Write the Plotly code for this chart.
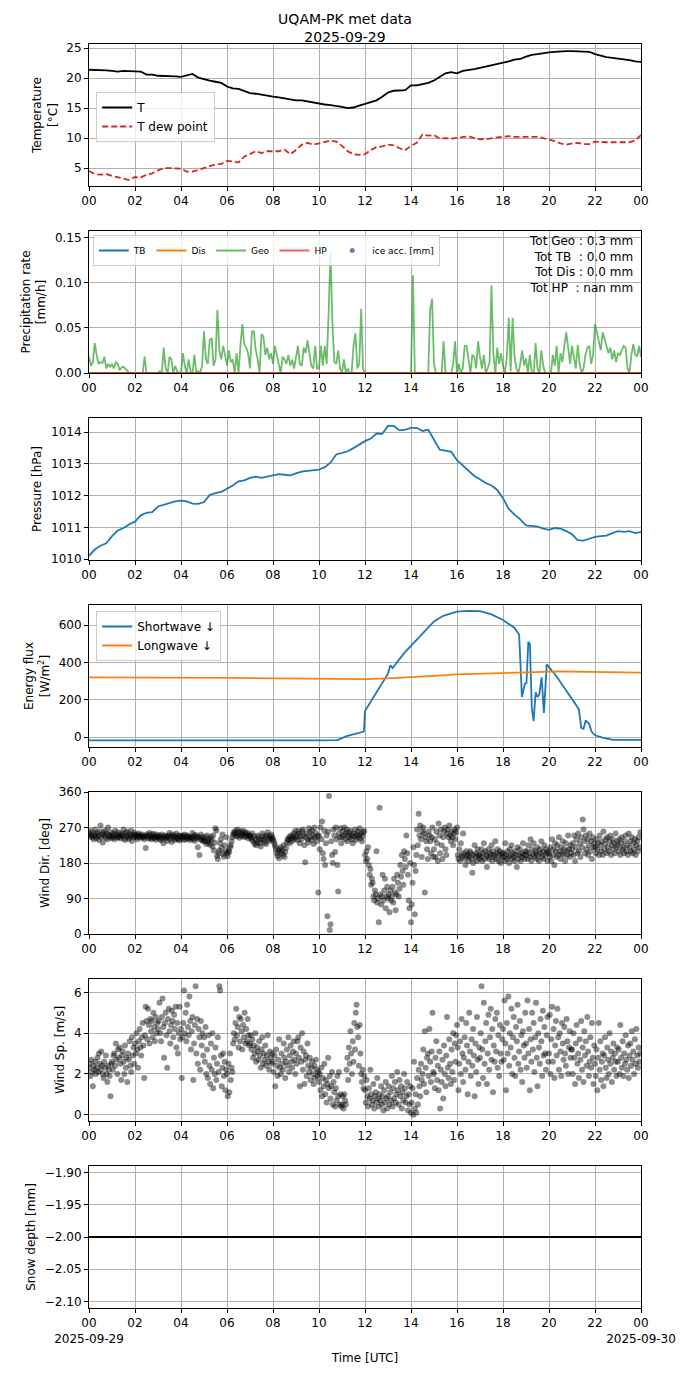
import plotly.graph_objects as go

# ---------------- DATA ----------------
# Temperature and dew point, every 15 min from 00:00 to 24:00 (hours)
temp_t = [i * 0.25 for i in range(97)]
temp = [21.4, 21.4, 21.3, 21.3, 21.2, 21.1, 21.2, 21.2, 21.2, 21.1, 20.6, 20.6,
        20.4, 20.4, 20.3, 20.3, 20.2, 20.5, 20.7, 20.1, 19.8, 19.6, 19.4, 19.2,
        18.6, 18.3, 18.2, 17.8, 17.5, 17.4, 17.2, 17.1, 16.9, 16.8, 16.6, 16.4,
        16.3, 16.3, 16.1, 16.0, 15.8, 15.6, 15.5, 15.4, 15.2, 15.0, 15.1, 15.4,
        15.7, 16.1, 16.3, 16.9, 17.6, 17.9, 18.0, 18.0, 18.8, 18.8, 19.0, 19.2,
        19.6, 20.2, 20.8, 21.0, 20.8, 21.2, 21.3, 21.5, 21.7, 21.9, 22.1, 22.4,
        22.6, 22.8, 23.1, 23.2, 23.6, 23.9, 24.0, 24.2, 24.3, 24.4, 24.5, 24.5,
        24.5, 24.5, 24.5, 24.4, 24.0, 23.7, 23.5, 23.4, 23.3, 23.2, 23.0, 22.8,
        22.7]
dew = [4.5, 4.0, 3.9, 4.0, 3.7, 3.5, 3.2, 3.0, 3.5, 3.4, 3.9, 4.1,
       4.6, 5.0, 5.0, 4.9, 4.9, 4.4, 4.4, 4.7, 5.0, 5.3, 5.6, 5.7,
       6.2, 6.1, 5.9, 6.9, 7.3, 7.8, 7.5, 7.8, 7.8, 7.8, 8.1, 7.3,
       8.0, 8.9, 9.2, 8.9, 9.1, 9.4, 9.6, 9.4, 8.7, 7.8, 7.3, 7.2,
       7.3, 8.0, 8.5, 8.6, 8.9, 8.8, 8.3, 8.0, 8.7, 9.2, 10.6, 10.4,
       10.5, 9.9, 10.0, 9.9, 10.0, 10.1, 10.3, 10.0, 9.8, 9.8, 10.0, 10.1,
       10.2, 10.3, 10.2, 10.2, 10.2, 10.1, 10.2, 10.0, 9.8, 9.5, 9.1, 8.9,
       9.1, 9.2, 9.0, 9.0, 9.4, 9.3, 9.3, 9.3, 9.3, 9.4, 9.3, 9.6,
       10.5]

# Precipitation rate (Geo), every 5 min (mm/h)
precip_t = [i / 12 for i in range(289)]
geo = [
    0.018, 0.008, 0.012, 0.033, 0.020, 0.010, 0.012, 0.011, 0.018, 0.005, 0.010, 0.007,
    0.010, 0.005, 0.012, 0.010, 0.003, 0.006, 0.007, 0.004, 0.002, 0.0, 0.0, 0.0,
    0.0, 0.0, 0.0, 0.0, 0.0, 0.018, 0.0, 0.0, 0.0, 0.0, 0.0, 0.0,
    0.0, 0.002, 0.0, 0.028, 0.005, 0.0, 0.018, 0.015, 0.0, 0.008, 0.002, 0.0,
    0.0, 0.022, 0.008, 0.0, 0.015, 0.002, 0.0, 0.020, 0.0, 0.002, 0.0, 0.008,
    0.046, 0.015, 0.010, 0.037, 0.038, 0.008, 0.015, 0.070, 0.025, 0.015, 0.030, 0.020,
    0.008, 0.025, 0.012, 0.015, 0.0, 0.022, 0.0, 0.030, 0.054, 0.032, 0.028, 0.022,
    0.005, 0.046, 0.046, 0.025, 0.015, 0.0, 0.043, 0.040, 0.020, 0.028, 0.015, 0.022,
    0.010, 0.030, 0.020, 0.012, 0.0, 0.018, 0.015, 0.010, 0.020, 0.008, 0.015, 0.005,
    0.018, 0.030, 0.010, 0.008, 0.028, 0.022, 0.036, 0.022, 0.008, 0.005, 0.030, 0.005,
    0.005, 0.030, 0.008, 0.030, 0.010, 0.065, 0.135, 0.055, 0.012, 0.010, 0.025, 0.005,
    0.0, 0.015, 0.0, 0.005, 0.0, 0.0, 0.030, 0.044, 0.005, 0.010, 0.071, 0.005,
    0.0, 0.0, 0.0, 0.0, 0.0, 0.0, 0.0, 0.0, 0.0, 0.0, 0.0, 0.0,
    0.0, 0.0, 0.0, 0.0, 0.0, 0.0, 0.0, 0.0, 0.0, 0.0, 0.0, 0.0,
    0.0, 0.108, 0.0, 0.0, 0.0, 0.0, 0.0, 0.0, 0.0, 0.0, 0.070, 0.082,
    0.010, 0.0, 0.0, 0.0, 0.0, 0.035, 0.0, 0.0, 0.0, 0.0, 0.010, 0.035,
    0.0, 0.010, 0.0, 0.005, 0.030, 0.030, 0.015, 0.0, 0.020, 0.018, 0.005, 0.035,
    0.018, 0.005, 0.020, 0.0, 0.005, 0.012, 0.097, 0.020, 0.0, 0.028, 0.010, 0.022,
    0.008, 0.0, 0.018, 0.061, 0.002, 0.061, 0.018, 0.005, 0.0, 0.010, 0.025, 0.008,
    0.016, 0.0, 0.020, 0.0, 0.0, 0.033, 0.005, 0.0, 0.025, 0.008, 0.0, 0.0,
    0.0, 0.0, 0.020, 0.008, 0.030, 0.0, 0.022, 0.012, 0.030, 0.045, 0.028, 0.010,
    0.030, 0.018, 0.005, 0.031, 0.010, 0.0, 0.005, 0.020, 0.028, 0.030, 0.010, 0.020,
    0.054, 0.045, 0.035, 0.025, 0.045, 0.038, 0.030, 0.022, 0.028, 0.015, 0.025, 0.012,
    0.022, 0.020, 0.025, 0.030, 0.028, 0.005, 0.0, 0.020, 0.032, 0.020, 0.018, 0.030,
    0.018]
zero_t = [0, 24]
tb = [0.0, 0.0]
dis = [0.0, 0.0]
hp = [0.0, 0.0]
totals_text = ["Tot Geo : 0.3 mm", "Tot TB  : 0.0 mm", "Tot Dis : 0.0 mm", "Tot HP  : nan mm"]

# Pressure, every 15 min (hPa)
pres = [1010.10, 1010.30, 1010.42, 1010.50, 1010.72, 1010.90, 1010.98, 1011.10,
        1011.18, 1011.38, 1011.46, 1011.48, 1011.66, 1011.72, 1011.78, 1011.82,
        1011.84, 1011.82, 1011.75, 1011.74, 1011.80, 1012.02, 1012.08, 1012.12,
        1012.22, 1012.32, 1012.45, 1012.48, 1012.56, 1012.60, 1012.56, 1012.60,
        1012.66, 1012.68, 1012.66, 1012.64, 1012.70, 1012.76, 1012.78, 1012.80,
        1012.82, 1012.90, 1013.04, 1013.30, 1013.36, 1013.40, 1013.50, 1013.62,
        1013.72, 1013.80, 1013.96, 1013.95, 1014.20, 1014.20, 1014.06, 1014.08,
        1014.14, 1014.14, 1014.04, 1014.08, 1013.78, 1013.45, 1013.42, 1013.38,
        1013.12, 1012.95, 1012.80, 1012.62, 1012.52, 1012.40, 1012.32, 1012.18,
        1011.92, 1011.58, 1011.40, 1011.25, 1011.06, 1011.05, 1011.02, 1010.96,
        1010.92, 1010.98, 1010.96, 1010.88, 1010.78, 1010.60, 1010.58, 1010.64,
        1010.70, 1010.72, 1010.74, 1010.82, 1010.88, 1010.86, 1010.88, 1010.82,
        1010.85]

# Radiation (W/m2)
sw_t = [0, 2, 4, 6, 8, 10, 10.8, 11.2, 11.5, 11.9, 11.95, 12.0, 12.3, 12.8, 13.0, 13.1,
        13.2, 13.7, 14.3, 15.0, 15.4, 16.0, 16.5, 17.0, 17.5, 18.0, 18.5, 18.7, 18.75,
        18.82, 18.95, 19.02, 19.1, 19.17, 19.25, 19.33, 19.42, 19.5, 19.58, 19.68, 19.78,
        19.9, 20.3, 21.3, 21.4, 21.5, 21.6, 21.75, 21.85, 22.0, 22.4, 22.8, 24]
sw = [-18, -17, -15, -16, -17, -17, -16, 5, 15, 25, 30, 140, 200, 300, 340, 385,
      370, 450, 530, 620, 650, 672, 676, 675, 658, 628, 585, 550, 420,
      215, 285, 290, 510, 500, 160, 85, 240, 215, 230, 320, 130,
      390, 330, 150, 50, 45, 90, 70, 30, 10, -5, -15, -15]
lw_t = [0, 2, 4, 4.5, 6, 8, 10, 12, 13, 14, 15, 16, 17, 18, 19, 20, 20.5, 21, 22, 23, 24]
lw = [320, 320, 321, 321, 317, 315, 313, 311, 315, 320, 328, 336, 340, 343, 345, 348,
      352, 351, 348, 347, 346]

# Wind, every 2 min
wind_t = [i / 30 for i in range(720)]
wdir = [
    255, 262, 248, 250, 245, 258, 240, 252, 265, 248, 243, 256, 250, 238, 260, 275, 246, 252, 232, 258, 249, 262, 244, 255, 240, 270, 251, 247, 258, 243,
    250, 245, 255, 240, 262, 248, 252, 244, 258, 246, 250, 242, 255, 248, 252, 265, 243, 238, 256, 249, 260, 246, 241, 253, 248, 262, 236, 251, 245, 257,
    248, 252, 245, 240, 250, 255, 246, 250, 244, 252, 248, 245, 240, 250, 218, 247, 253, 242, 249, 256, 244, 240, 251, 246, 254, 243, 248, 239, 252, 245,
    245, 250, 240, 248, 238, 252, 244, 230, 246, 250, 242, 248, 236, 245, 250, 256, 241, 247, 233, 252, 244, 249, 238, 246, 255, 242, 240, 250, 237, 248,
    248, 242, 250, 245, 238, 252, 246, 240, 250, 244, 248, 242, 238, 246, 244, 256, 241, 249, 236, 251, 243, 247, 220, 245, 200, 240, 252, 238, 246, 235,
    240, 235, 245, 228, 250, 236, 232, 241, 226, 246, 238, 222, 250, 212, 232, 268, 262, 198, 190, 205, 212, 230, 240, 218, 252, 203, 196, 225, 210, 245,
    205, 198, 212, 208, 220, 225, 235, 245, 252, 258, 255, 262, 248, 250, 265, 258, 244, 252, 260, 248, 255, 262, 250, 245, 258, 252, 248, 256, 242, 250,
    250, 245, 240, 255, 235, 248, 228, 240, 225, 232, 250, 245, 238, 230, 222, 240, 255, 248, 238, 232, 245, 228, 250, 258, 242, 236, 248, 240, 252, 245,
    240, 235, 228, 222, 215, 205, 198, 210, 192, 215, 220, 205, 212, 200, 225, 195, 208, 218, 232, 240, 238, 245, 230, 250, 242, 236, 248, 255, 240, 262,
    245, 250, 238, 262, 255, 230, 248, 240, 260, 265, 250, 225, 182, 245, 255, 240, 232, 268, 258, 245, 238, 262, 250, 228, 270, 244, 256, 235, 248, 105,
    250, 215, 270, 240, 285, 205, 190, 262, 175, 230, 250, 45, 260, 350, 10, 25, 235, 200, 180, 265, 250, 208, 270, 240, 175, 108, 255, 245, 268, 230,
    245, 260, 250, 270, 240, 255, 265, 235, 250, 258, 245, 262, 240, 250, 230, 255, 248, 265, 238, 252, 244, 260, 250, 268, 242, 255, 235, 248, 258, 262,
    200, 185, 210, 190, 220, 175, 150, 165, 125, 140, 130, 95, 85, 110, 100, 210, 80, 90, 30, 320, 100, 75, 95, 150, 85, 110, 140, 65, 95, 120,
    90, 100, 55, 110, 85, 95, 120, 80, 140, 105, 60, 100, 150, 130, 95, 115, 175, 145, 200, 160, 125, 210, 190, 170, 250, 205, 150, 85, 65, 180,
    30, 75, 130, 220, 175, 50, 160, 200, 265, 225, 305, 250, 275, 240, 195, 260, 270, 255, 105, 245, 235, 215, 190, 260, 250, 235, 205, 245, 270, 195,
    215, 240, 195, 260, 230, 185, 280, 250, 205, 265, 225, 190, 245, 260, 270, 215, 200, 255, 265, 245, 275, 250, 235, 260, 245, 225, 255, 265, 240, 258,
    270, 200, 190, 215, 185, 230, 200, 195, 255, 205, 190, 175, 210, 198, 200, 185, 195, 210, 205, 190, 155, 180, 200, 225, 195, 205, 185, 215, 200, 190,
    200, 195, 215, 185, 205, 230, 190, 210, 200, 170, 195, 215, 190, 205, 200, 225, 185, 210, 195, 200, 235, 190, 205, 215, 185, 200, 210, 180, 195, 205,
    195, 205, 185, 230, 200, 190, 210, 195, 180, 215, 200, 225, 190, 205, 195, 185, 210, 200, 170, 220, 190, 200, 215, 185, 205, 195, 230, 200, 190, 210,
    200, 210, 190, 225, 205, 195, 240, 185, 215, 200, 230, 195, 210, 205, 190, 220, 200, 185, 215, 205, 235, 195, 210, 190, 225, 200, 215, 205, 185, 210,
    205, 195, 220, 185, 240, 200, 215, 175, 230, 210, 195, 225, 200, 245, 210, 190, 220, 205, 235, 200, 215, 185, 230, 210, 200, 250, 215, 195, 225, 205,
    215, 230, 200, 250, 185, 220, 240, 205, 255, 210, 230, 195, 245, 220, 290, 265, 235, 205, 250, 215, 240, 200, 225, 255, 210, 235, 190, 245, 220, 230,
    220, 205, 240, 215, 230, 200, 250, 225, 210, 235, 200, 260, 215, 228, 240, 205, 245, 220, 210, 235, 250, 200, 225, 240, 215, 230, 205, 255, 220, 235,
    225, 210, 240, 200, 230, 245, 215, 220, 205, 235, 250, 210, 225, 200, 255, 220, 235, 210, 245, 205, 230, 215, 240, 200, 225, 235, 210, 245, 220, 258]
wspd = [
    2.3, 2.5, 1.9, 2.7, 2.1, 1.4, 2.4, 2.2, 2.6, 2.0, 2.3, 2.8, 2.1, 3.0, 2.5, 2.2, 3.1, 2.4, 2.0, 1.8, 2.6, 2.3, 2.9, 2.0, 1.6, 2.4, 2.2, 1.9, 0.9, 2.5,
    2.6, 2.2, 2.9, 3.0, 2.4, 3.5, 2.7, 2.0, 3.2, 2.8, 3.3, 2.5, 1.7, 2.9, 3.1, 2.6, 2.0, 3.4, 2.3, 2.8, 1.6, 3.0, 2.7, 3.6, 2.4, 2.1, 3.8, 2.9, 3.3, 2.5,
    3.5, 3.0, 4.0, 3.2, 2.3, 3.6, 4.2, 3.3, 2.9, 3.8, 4.5, 3.4, 1.8, 3.9, 5.3, 4.6, 3.7, 5.2, 4.4, 3.5, 4.7, 4.1, 4.6, 3.8, 5.0, 4.3, 3.6, 4.8, 4.0, 4.5,
    4.2, 4.6, 5.5, 4.0, 3.6, 4.8, 5.7, 4.3, 2.8, 4.5, 5.0, 3.9, 2.3, 4.7, 5.2, 4.1, 3.5, 4.4, 5.1, 4.6, 3.8, 4.9, 4.2, 5.3, 3.3, 4.5, 3.0, 4.0, 5.3, 3.7,
    4.2, 1.8, 3.8, 4.5, 6.1, 4.0, 5.0, 3.6, 5.4, 4.3, 3.9, 5.8, 4.6, 3.2, 4.1, 4.8, 1.7, 3.5, 4.4, 6.3, 3.0, 4.7, 2.5, 4.2, 3.8, 2.2, 4.6, 3.4, 4.0, 2.9,
    3.8, 2.6, 4.3, 2.0, 3.2, 1.8, 3.9, 2.4, 1.5, 3.5, 2.2, 4.0, 1.3, 2.8, 2.0, 3.3, 1.7, 2.5, 3.8, 2.1, 6.3, 6.1, 2.9, 1.4, 2.3, 3.0, 1.9, 2.6, 1.2, 2.2,
    2.0, 0.9, 2.5, 1.1, 3.0, 1.7, 2.3, 2.1, 3.5, 4.0, 3.7, 4.5, 5.2, 3.9, 4.3, 3.3, 4.8, 3.6, 4.7, 4.1, 3.2, 4.4, 3.8, 5.0, 3.5, 4.2, 3.6, 4.7, 3.9, 3.4,
    3.5, 3.9, 3.2, 3.7, 2.8, 3.4, 3.0, 4.0, 2.6, 3.3, 3.1, 2.7, 3.6, 2.9, 2.3, 3.2, 3.8, 2.5, 3.0, 2.7, 3.4, 2.4, 2.9, 3.9, 2.6, 2.2, 3.1, 2.8, 2.5, 3.0,
    2.6, 2.1, 2.9, 1.4, 3.2, 2.4, 1.9, 2.7, 3.7, 2.3, 2.0, 3.0, 2.5, 2.2, 3.5, 2.8, 1.8, 2.6, 3.2, 2.4, 3.8, 2.1, 2.9, 3.4, 2.6, 2.3, 3.1, 3.6, 2.7, 2.0,
    3.0, 2.5, 3.6, 3.8, 2.8, 1.4, 3.3, 2.6, 4.0, 2.2, 3.1, 1.5, 2.7, 2.9, 1.9, 3.5, 2.4, 2.1, 2.8, 1.7, 2.3, 2.6, 2.0, 1.5, 2.4, 1.8, 2.7, 2.2, 1.9, 2.1,
    1.6, 2.0, 1.2, 2.3, 0.9, 1.8, 1.4, 2.5, 1.0, 1.7, 0.6, 1.5, 2.8, 1.3, 1.9, 0.8, 1.4, 2.1, 0.5, 1.6, 1.1, 0.4, 1.3, 0.7, 1.9, 0.9, 2.1, 0.5, 1.0, 0.4,
    0.5, 0.9, 0.3, 1.0, 0.7, 0.5, 2.2, 2.8, 1.7, 3.3, 2.5, 4.1, 3.0, 2.0, 3.6, 2.6, 4.5, 3.2, 5.0, 5.4, 4.3, 3.8, 2.4, 4.4, 3.0, 2.0, 1.6, 2.2, 1.3, 1.9,
    1.2, 0.6, 1.7, 0.9, 0.4, 1.3, 0.8, 2.2, 1.0, 0.5, 0.7, 1.5, 0.3, 0.9, 1.1, 0.6, 1.8, 0.8, 0.4, 1.0, 0.7, 1.4, 0.5, 0.9, 0.2, 1.2, 0.6, 1.6, 0.8, 0.3,
    0.9, 1.4, 0.5, 1.1, 0.7, 1.9, 0.4, 1.3, 0.8, 1.6, 0.6, 1.0, 2.1, 1.2, 0.5, 1.7, 0.9, 1.4, 0.3, 1.1, 0.7, 2.0, 1.3, 0.6, 0.9, 1.6, 0.2, 1.0, 0.5, 1.4,
    0.1, 0.6, 1.3, 0.0, 2.6, 0.3, 1.0, 0.1, 1.8, 0.5, 2.2, 1.4, 0.9, 2.5, 1.7, 2.0, 3.2, 1.5, 4.1, 2.3, 1.1, 2.8, 3.0, 1.9, 4.2, 2.6, 1.6, 3.1, 5.0, 2.1,
    2.0, 1.3, 2.8, 3.6, 1.7, 2.4, 1.2, 3.1, 0.3, 2.2, 1.6, 2.7, 0.8, 3.4, 2.0, 1.4, 2.9, 4.8, 2.3, 1.8, 3.7, 2.5, 1.5, 3.2, 2.1, 4.0, 1.7, 3.5, 2.6, 3.9,
    4.4, 3.3, 1.2, 2.5, 3.6, 2.0, 4.7, 3.0, 1.6, 2.8, 3.8, 2.2, 4.5, 3.4, 1.0, 2.6, 5.0, 3.1, 1.9, 3.7, 2.4, 4.2, 2.9, 0.9, 3.5, 2.1, 4.8, 2.7, 1.5, 3.3,
    2.8, 4.0, 6.3, 3.2, 1.8, 5.5, 2.5, 3.6, 4.5, 1.5, 3.0, 4.9, 2.2, 3.8, 5.2, 2.7, 4.2, 1.1, 3.4, 2.6, 4.7, 3.1, 5.0, 2.3, 3.9, 1.9, 4.4, 3.0, 2.6, 3.7,
    4.2, 2.7, 5.6, 3.5, 1.2, 4.5, 3.0, 5.8, 2.4, 4.0, 3.3, 5.2, 2.0, 3.8, 4.8, 2.8, 1.9, 4.3, 3.6, 5.4, 2.5, 3.1, 4.6, 2.2, 3.9, 1.6, 4.1, 3.4, 2.8, 5.0,
    3.5, 2.3, 5.6, 3.0, 4.2, 1.2, 3.7, 2.6, 5.0, 3.2, 4.5, 2.1, 3.8, 5.5, 2.8, 1.4, 4.0, 3.3, 2.5, 4.7, 3.6, 1.9, 5.1, 2.9, 4.3, 3.0, 2.2, 3.9, 4.8, 2.6,
    3.0, 4.9, 2.0, 3.7, 5.3, 2.6, 4.2, 1.8, 3.4, 4.6, 2.9, 5.2, 3.8, 2.2, 4.0, 3.1, 1.9, 4.5, 3.5, 2.7, 4.3, 3.0, 2.4, 4.7, 3.6, 2.0, 3.3, 4.1, 2.8, 3.2,
    3.2, 2.0, 4.0, 2.8, 1.5, 3.5, 4.4, 2.5, 3.0, 1.8, 3.7, 2.7, 4.6, 2.2, 3.3, 1.6, 4.1, 2.9, 3.6, 2.4, 4.8, 3.1, 1.9, 2.6, 3.8, 2.3, 4.5, 2.8, 1.5, 3.4,
    2.5, 1.9, 3.2, 1.2, 2.8, 4.5, 2.2, 3.6, 1.7, 2.6, 3.0, 1.4, 2.9, 3.8, 2.3, 1.8, 3.3, 2.7, 2.0, 4.0, 2.5, 3.1, 1.6, 2.8, 3.5, 2.2, 3.0, 2.6, 1.9, 3.3,
    2.6, 3.2, 2.0, 4.4, 2.8, 2.3, 3.6, 1.9, 3.0, 2.5, 3.9, 2.7, 2.2, 3.4, 1.8, 2.9, 3.5, 2.4, 4.1, 2.7, 3.1, 2.0, 3.7, 2.5, 4.2, 2.9, 2.3, 3.3, 2.6, 3.0]

# Snow depth (mm), hourly
snow_t = list(range(25))
snow = [-2.0] * 25

hour_ticks = list(range(0, 25, 2))
hour_labels = ["00", "02", "04", "06", "08", "10", "12", "14", "16", "18", "20", "22", "00"]
day_start = "2025-09-29"
day_end = "2025-09-30"

# ---------------- FIGURE ----------------
W, H = 690, 1377
ML, MR, MT, MB = 89, 49, 44, 69
PH = H - MT - MB
STEP, PANEL = 187, 142


def dom(i):
    top = 1 - (i * STEP) / PH
    return [top - PANEL / PH, top]


FONT = "DejaVu Sans, Verdana, sans-serif"
fig = go.Figure()

# Panel 1
fig.add_trace(go.Scatter(x=temp_t, y=temp, mode="lines", name="T",
                         line=dict(color="black", width=1.8), xaxis="x", yaxis="y", legend="legend"))
fig.add_trace(go.Scatter(x=temp_t, y=dew, mode="lines", name="T dew point",
                         line=dict(color="#d62728", width=1.8, dash="6px,3px"), xaxis="x", yaxis="y", legend="legend"))
# Panel 2
fig.add_trace(go.Scatter(x=zero_t, y=tb, mode="lines", name="TB",
                         line=dict(color="#1f77b4", width=1.8), xaxis="x2", yaxis="y2", legend="legend2"))
fig.add_trace(go.Scatter(x=zero_t, y=dis, mode="lines", name="Dis",
                         line=dict(color="#ff7f0e", width=1.8), xaxis="x2", yaxis="y2", legend="legend2"))
fig.add_trace(go.Scatter(x=precip_t, y=geo, mode="lines", name="Geo",
                         line=dict(color="rgba(44,160,44,0.7)", width=1.8), xaxis="x2", yaxis="y2", legend="legend2"))
fig.add_trace(go.Scatter(x=zero_t, y=hp, mode="lines", name="HP",
                         line=dict(color="rgba(214,39,40,0.7)", width=1.8), xaxis="x2", yaxis="y2", legend="legend2"))
fig.add_trace(go.Scatter(x=[None], y=[None], mode="markers", name="ice acc. [mm]",
                         marker=dict(color="#9467bd", size=5), xaxis="x2", yaxis="y2", legend="legend2"))
# Panel 3
fig.add_trace(go.Scatter(x=temp_t, y=pres, mode="lines", showlegend=False,
                         line=dict(color="#1f77b4", width=1.8), xaxis="x3", yaxis="y3"))
# Panel 4
fig.add_trace(go.Scatter(x=sw_t, y=sw, mode="lines", name="Shortwave \u2193",
                         line=dict(color="#1f77b4", width=1.8), xaxis="x4", yaxis="y4", legend="legend3"))
fig.add_trace(go.Scatter(x=lw_t, y=lw, mode="lines", name="Longwave \u2193",
                         line=dict(color="#ff7f0e", width=1.8), xaxis="x4", yaxis="y4", legend="legend3"))
# Panel 5, 6
fig.add_trace(go.Scatter(x=wind_t, y=wdir, mode="markers", showlegend=False,
                         marker=dict(color="rgba(0,0,0,0.45)", size=6, line=dict(width=0)),
                         xaxis="x5", yaxis="y5"))
fig.add_trace(go.Scatter(x=wind_t, y=wspd, mode="markers", showlegend=False,
                         marker=dict(color="rgba(0,0,0,0.45)", size=6, line=dict(width=0)),
                         xaxis="x6", yaxis="y6"))
# Panel 7
fig.add_trace(go.Scatter(x=snow_t, y=snow, mode="lines", showlegend=False,
                         line=dict(color="black", width=2.2), xaxis="x7", yaxis="y7"))

axis_common = dict(showgrid=True, gridcolor="#b0b0b0", gridwidth=1, showline=True,
                   linecolor="black", linewidth=1, mirror=True, ticks="outside",
                   ticklen=4, tickwidth=1, tickcolor="black", zeroline=False,
                   tickfont=dict(size=12, color="black", family=FONT))

yspecs = [
    dict(title="Temperature<br>[°C]", range=[2.0, 25.7], tickvals=[5, 10, 15, 20, 25]),
    dict(title="Precipitation rate<br>[mm/h]", range=[0, 0.157], tickvals=[0, 0.05, 0.10, 0.15], tickformat=".2f"),
    dict(title="Pressure [hPa]", range=[1009.97, 1014.45], tickvals=[1010, 1011, 1012, 1013, 1014]),
    dict(title="Energy flux<br>[W/m<sup>2</sup>]", range=[-53, 708], tickvals=[0, 200, 400, 600]),
    dict(title="Wind Dir. [deg]", range=[0, 360], tickvals=[0, 90, 180, 270, 360]),
    dict(title="Wind Sp. [m/s]", range=[-0.31, 6.66], tickvals=[0, 2, 4, 6]),
    dict(title="Snow depth [mm]", range=[-2.11, -1.89], tickvals=[-2.10, -2.05, -2.00, -1.95, -1.90], tickformat=".2f"),
]

layout = dict(
    width=W, height=H, margin=dict(l=ML, r=MR, t=MT, b=MB),
    paper_bgcolor="white", plot_bgcolor="white",
    font=dict(family=FONT, size=12, color="black"),
    title=dict(text="UQAM-PK met data<br>2025-09-29", x=0.5, xref="container", xanchor="center",
               y=1 - 24 / H, yref="container", yanchor="middle",
               font=dict(size=14, color="black", family=FONT)),
    legend=dict(x=0.013, y=1 - 48 / PH, xanchor="left", yanchor="top",
                bgcolor="rgba(255,255,255,0.8)", bordercolor="#cccccc", borderwidth=1,
                font=dict(size=12, color="black"), tracegroupgap=2),
    legend2=dict(x=0.007, y=1 - (235 - MT) / PH, xanchor="left", yanchor="top",
                 orientation="h", bgcolor="rgba(255,255,255,0.8)", bordercolor="#cccccc",
                 borderwidth=1, font=dict(size=9, color="black"), itemwidth=30),
    legend3=dict(x=0.013, y=1 - (611 - MT) / PH, xanchor="left", yanchor="top",
                 bgcolor="rgba(255,255,255,0.8)", bordercolor="#cccccc", borderwidth=1,
                 font=dict(size=12, color="black")),
    showlegend=True,
)

for i in range(7):
    k = "" if i == 0 else str(i + 1)
    xa = dict(axis_common)
    labels = list(hour_labels)
    if i == 6:
        labels[0] = "00<br>" + day_start
        labels[-1] = "00<br>" + day_end
        xa["title"] = dict(text="Time [UTC]", font=dict(size=12, color="black"), standoff=8)
    xa.update(domain=[0, 1], range=[0, 24], tickvals=hour_ticks, ticktext=labels,
              anchor="y" + k)
    layout["xaxis" + k] = xa
    ys = yspecs[i]
    ya = dict(axis_common)
    ya.update(domain=dom(i), range=ys["range"], tickvals=ys["tickvals"], anchor="x" + k,
              title=dict(text=ys["title"], font=dict(size=12, color="black"), standoff=6))
    if "tickformat" in ys:
        ya["tickformat"] = ys["tickformat"]
    layout["yaxis" + k] = ya

fig.update_layout(**layout)

fig.add_annotation(
    text="<br>".join(t.replace(" ", "\u00a0") for t in totals_text),
    xref="x2 domain", yref="y2 domain", x=0.99, y=0.995, xanchor="right", yanchor="top",
    align="right", showarrow=False, font=dict(size=12, color="black", family=FONT))

fig.write_html("out.html", config={"displayModeBar": False},
               post_script="document.body.style.margin='0';")
